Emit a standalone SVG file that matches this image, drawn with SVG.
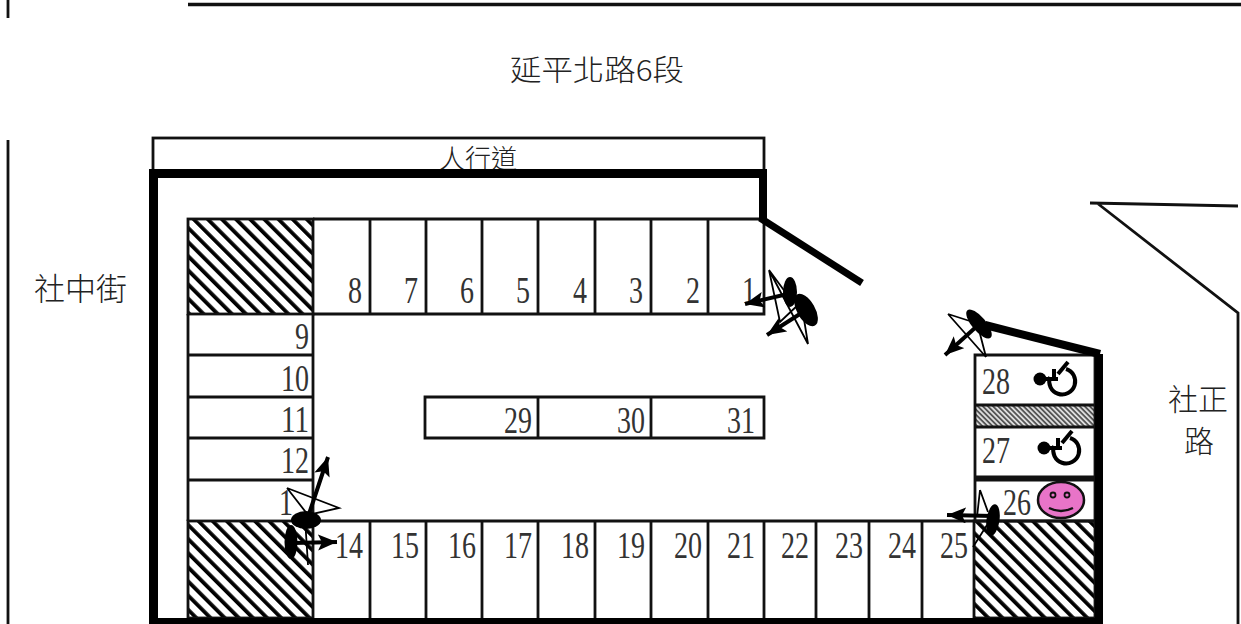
<svg xmlns="http://www.w3.org/2000/svg" width="1241" height="624" viewBox="0 0 1241 624">
<style>
.n{font-family:"Liberation Serif",serif;font-size:37px;fill:#333;text-anchor:end}
.c{font-family:"Noto Sans CJK TC","Noto Sans CJK SC",sans-serif;fill:#222;font-weight:300}
.l{stroke:#111;stroke-width:2.800;fill:none}
.h{stroke:#111;stroke-width:2.800}
.t{fill:none;stroke:#000;stroke-width:8}
.s{fill:none;stroke:#000;stroke-width:1.800}
.a{fill:none;stroke:#000;stroke-width:4;marker-end:url(#h)}
.b{fill:#000}
.wc{fill:none;stroke:#000;stroke-width:4}
</style>
<defs>
<pattern id="d" width="10" height="10" patternUnits="userSpaceOnUse" patternTransform="rotate(-45)"><rect width="10" height="10" fill="#fff"/><rect width="3.800" height="10" fill="#000"/></pattern>
<pattern id="f" width="3.600" height="3.600" patternUnits="userSpaceOnUse" patternTransform="rotate(-45)"><rect width="3.600" height="3.600" fill="#ddd"/><rect width="1.800" height="3.600" fill="#555"/></pattern>
<marker id="h" markerUnits="userSpaceOnUse" markerWidth="22" markerHeight="18" refX="19" refY="8" orient="auto"><path d="M0 0L19 8L0 16L4 8Z" fill="#000"/></marker>
<g id="wcg"><circle cx="1040" cy="379" r="6.500" class="b"/><path class="wc" d="M1040 379H1058M1054 369V379"/><path class="wc" d="M1066 369A13 13 0 1 1 1050 377"/><path class="wc" d="M1058 374L1068 362"/></g>
</defs>
<g id="road-lines">
<path class="l" d="M188 4.500H1241" style="stroke-width:3.500"/>
<path class="l" d="M8 0V18M8 140V624"/>
<path class="l" d="M1090 203L1238 206M1097 203L1238 313V624"/>
</g>
<g id="sidewalk"><rect class="l" x="153" y="138" width="611" height="37"/><text class="c" x="478" y="168" font-size="26" text-anchor="middle">人行道</text></g>
<g id="labels">
<text class="c" x="510" y="81" font-size="29" textLength="174" lengthAdjust="spacingAndGlyphs">延平北路6段</text>
<text class="c" x="34" y="300" font-size="31">社中街</text>
<text class="c" x="1168" y="410" font-size="30">社正</text>
<text class="c" x="1184" y="452" font-size="30">路</text>
</g>
<g id="hatched-areas">
<rect x="188" y="219" width="125" height="95" fill="url(#d)" class="h"/>
<rect x="188" y="521" width="125" height="97" fill="url(#d)" class="h"/>
<rect x="974" y="521" width="121" height="97" fill="url(#d)" class="h"/>
</g>
<g id="stalls-top">
<path class="l" d="M313 219H764V314H313M370 219V314M426 219V314M482 219V314M538 219V314M595 219V314M651 219V314M708 219V314"/>
<text class="n" x="362" y="303" textLength="14" lengthAdjust="spacingAndGlyphs">8</text>
<text class="n" x="418" y="303" textLength="14" lengthAdjust="spacingAndGlyphs">7</text>
<text class="n" x="474" y="303" textLength="14" lengthAdjust="spacingAndGlyphs">6</text>
<text class="n" x="530" y="303" textLength="14" lengthAdjust="spacingAndGlyphs">5</text>
<text class="n" x="587" y="303" textLength="14" lengthAdjust="spacingAndGlyphs">4</text>
<text class="n" x="643" y="303" textLength="14" lengthAdjust="spacingAndGlyphs">3</text>
<text class="n" x="700" y="303" textLength="14" lengthAdjust="spacingAndGlyphs">2</text>
<text class="n" x="756" y="303" textLength="14" lengthAdjust="spacingAndGlyphs">1</text>
</g>
<g id="stalls-left">
<path class="l" d="M188 314V521M313 314V521M188 355H313M188 397H313M188 438H313M188 480H313"/>
<text class="n" x="309" y="349" textLength="14" lengthAdjust="spacingAndGlyphs">9</text>
<text class="n" x="309" y="391" textLength="28" lengthAdjust="spacingAndGlyphs">10</text>
<text class="n" x="309" y="432" textLength="28" lengthAdjust="spacingAndGlyphs">11</text>
<text class="n" x="309" y="473" textLength="28" lengthAdjust="spacingAndGlyphs">12</text>
<text class="n" x="293" y="515" textLength="14" lengthAdjust="spacingAndGlyphs">1</text>
</g>
<g id="stalls-middle">
<path class="l" d="M425 397H764V438H425ZM538 397V438M651 397V438"/>
<text class="n" x="532" y="433" textLength="28" lengthAdjust="spacingAndGlyphs">29</text>
<text class="n" x="645" y="433" textLength="28" lengthAdjust="spacingAndGlyphs">30</text>
<text class="n" x="755" y="433" textLength="28" lengthAdjust="spacingAndGlyphs">31</text>
</g>
<g id="stalls-bottom">
<path class="l" d="M313 521H974M370 521V618M426 521V618M482 521V618M538 521V618M595 521V618M651 521V618M708 521V618M764 521V618M816 521V618M869 521V618M922 521V618"/>
<text class="n" x="363" y="558" textLength="28" lengthAdjust="spacingAndGlyphs">14</text>
<text class="n" x="419" y="558" textLength="28" lengthAdjust="spacingAndGlyphs">15</text>
<text class="n" x="476" y="558" textLength="28" lengthAdjust="spacingAndGlyphs">16</text>
<text class="n" x="532" y="558" textLength="28" lengthAdjust="spacingAndGlyphs">17</text>
<text class="n" x="589" y="558" textLength="28" lengthAdjust="spacingAndGlyphs">18</text>
<text class="n" x="645" y="558" textLength="28" lengthAdjust="spacingAndGlyphs">19</text>
<text class="n" x="702" y="558" textLength="28" lengthAdjust="spacingAndGlyphs">20</text>
<text class="n" x="755" y="558" textLength="28" lengthAdjust="spacingAndGlyphs">21</text>
<text class="n" x="809" y="558" textLength="28" lengthAdjust="spacingAndGlyphs">22</text>
<text class="n" x="863" y="558" textLength="28" lengthAdjust="spacingAndGlyphs">23</text>
<text class="n" x="916" y="558" textLength="28" lengthAdjust="spacingAndGlyphs">24</text>
<text class="n" x="968" y="558" textLength="28" lengthAdjust="spacingAndGlyphs">25</text>
</g>
<g id="stalls-right">
<rect x="976" y="406" width="118" height="21" fill="url(#f)"/>
<path class="l" d="M975 355H1095V521H975ZM975 405H1095M975 427H1095M975 477H1095M975 480H1095"/>
<text class="n" x="1010" y="394" textLength="28" lengthAdjust="spacingAndGlyphs">28</text>
<text class="n" x="1010" y="463" textLength="28" lengthAdjust="spacingAndGlyphs">27</text>
<text class="n" x="1031" y="515" textLength="28" lengthAdjust="spacingAndGlyphs">26</text>
<use href="#wcg"/>
<use href="#wcg" x="4" y="69"/>
</g>
<g id="smiley">
<ellipse cx="1061" cy="500" rx="23" ry="18" fill="#e874c8" stroke="#111" stroke-width="2.500"/>
<circle cx="1053" cy="495" r="2.500" fill="#e874c8" stroke="#111" stroke-width="1.800"/>
<circle cx="1067" cy="495" r="2.500" fill="#e874c8" stroke="#111" stroke-width="1.800"/>
<path d="M1049 508Q1061 514 1073 508" fill="none" stroke="#111" stroke-width="2.500"/>
</g>
<g id="walls">
<path d="M149 174H158V618H1095V354H1103V624H149Z" fill="#000"/>
<path d="M149 169H767V219H759V178H149Z" fill="#000"/>
<path class="t" d="M760 218L862 283" style="stroke-width:7"/>
<path class="t" d="M985 325L1100 354" style="stroke-width:8"/>
</g>
<g id="connectors">
<path class="s" d="M769 270L808 344L803 313M769 270L780 322L800 303M769 270L786 293"/>
<ellipse class="b" cx="790" cy="292" rx="7" ry="15"/>
<ellipse class="b" cx="806" cy="310" rx="9" ry="18" transform="rotate(-30 806 310)"/>
<path class="a" d="M792 293L745 304"/>
<path class="a" d="M803 312L767 335"/>
<path class="s" d="M948 314L976 323M948 314L986 357L979 330"/>
<ellipse class="b" cx="979" cy="324" rx="7" ry="18" transform="rotate(-40 979 324)"/>
<path class="a" d="M976 327L945 355"/>
<path class="s" d="M980 490L988 512M980 490L977 517M987 525L973 547"/>
<ellipse class="b" cx="993" cy="520" rx="6.500" ry="16" transform="rotate(8 993 520)"/>
<path class="a" d="M993 516L947 515"/>
<path class="s" d="M287 488L339 508L308 515L287 488M308 565L305 518"/>
<ellipse class="b" cx="306" cy="520" rx="15" ry="9"/>
<ellipse class="b" cx="291" cy="542" rx="6.500" ry="17"/>
<path class="a" d="M308 517L328 457"/>
<path class="a" d="M293 543L337 542"/>
</g>
</svg>
